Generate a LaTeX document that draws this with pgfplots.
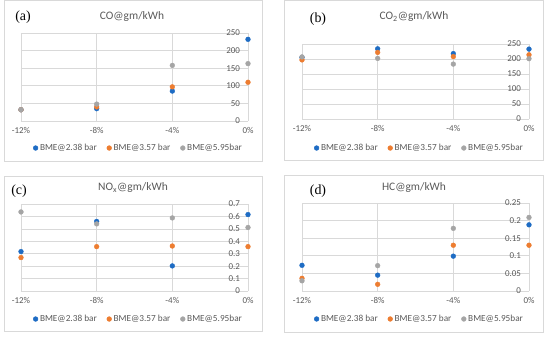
\documentclass[border=0pt]{standalone}
\usepackage{pgfplots}
\pgfplotsset{compat=1.18}
\usepackage{fontspec}
\setmainfont{Carlito}
\newfontfamily\serifpanel{Liberation Serif}
\definecolor{sblue}{RGB}{30,108,196}
\definecolor{sorange}{RGB}{237,125,49}
\definecolor{sgray}{RGB}{165,165,165}
\definecolor{gridc}{RGB}{217,217,217}
\definecolor{framec}{RGB}{217,217,217}
\definecolor{txt}{RGB}{89,89,89}
\pgfplotsset{
 panel/.style={
  scale only axis, width=227bp, xmin=-12, xmax=0, ymin=0, clip=false,
  axis x line=bottom, axis y line=right,
  axis line style={draw=gridc, line width=0.6bp, -},
  xtick={-12,-8,-4,0}, xticklabels={-12\%,-8\%,-4\%,0\%},
  grid=major, major grid style={draw=gridc, line width=0.6bp},
  major tick length=0pt,
  tick label style={font=\fontsize{9}{10}\selectfont, text=txt},
  xticklabel style={yshift=-2.5bp},
  yticklabel style={anchor=east, xshift=-4.5bp},
  legend columns=3,
  legend style={draw=none, fill=none, font=\fontsize{9.3}{11}\selectfont, text=txt, anchor=center,
    /tikz/every even column/.append style={column sep=8bp}},
  legend image code/.code={\draw[#1] plot coordinates {(0bp,0bp)};},
  legend cell align=left,
 },
 sb/.style={only marks, mark=*, mark size=2.4bp, color=sblue},
 so/.style={only marks, mark=*, mark size=2.4bp, color=sorange},
 sg/.style={only marks, mark=*, mark size=2.4bp, color=sgray},
}
\begin{document}
\begin{tikzpicture}
\path (0bp,0bp) rectangle (550bp,338bp);
% frames
\draw[framec, line width=0.6bp] (4bp,177bp) rectangle (262bp,337.7bp);
\draw[framec, line width=0.6bp] (284bp,178bp) rectangle (543bp,337.7bp);
\draw[framec, line width=0.6bp] (4bp,7bp) rectangle (262bp,162bp);
\draw[framec, line width=0.6bp] (284bp,6bp) rectangle (543bp,163bp);

% (a) CO
\begin{axis}[panel, at={(21bp,217bp)}, anchor=south west, height=88bp, ymax=250,
  ytick={0,50,100,150,200,250}, yticklabels={0,50,100,150,200,250},
  legend style={at={(0.518,-0.307)}}]
\addplot[sb] coordinates {(-12,32) (-8,35) (-4,85) (0,232)};
\addplot[so] coordinates {(-12,32) (-8,40) (-4,97) (0,110)};
\addplot[sg] coordinates {(-12,32) (-8,48) (-4,158) (0,163)};
\legend{BME@2.38 bar, BME@3.57 bar, BME@5.95bar}
\end{axis}

% (b) CO2
\begin{axis}[panel, at={(302bp,219bp)}, anchor=south west, height=75bp, ymax=250,
  ytick={0,50,100,150,200,250}, yticklabels={0,50,100,150,200,250},
  legend style={at={(0.518,-0.387)}}]
\addplot[sb] coordinates {(-12,205) (-8,234) (-4,218) (0,233)};
\addplot[so] coordinates {(-12,197) (-8,222) (-4,208) (0,214)};
\addplot[sg] coordinates {(-12,207) (-8,202) (-4,183) (0,201)};
\legend{BME@2.38 bar, BME@3.57 bar, BME@5.95bar}
\end{axis}

% (c) NOx
\begin{axis}[panel, at={(21bp,47bp)}, anchor=south west, height=87bp, ymax=0.7,
  ytick={0,0.1,0.2,0.3,0.4,0.5,0.6,0.7}, yticklabels={0,0.1,0.2,0.3,0.4,0.5,0.6,0.7},
  legend style={at={(0.518,-0.322)}}]
\addplot[sb] coordinates {(-12,0.317) (-8,0.56) (-4,0.202) (0,0.615)};
\addplot[so] coordinates {(-12,0.269) (-8,0.357) (-4,0.362) (0,0.357)};
\addplot[sg] coordinates {(-12,0.636) (-8,0.54) (-4,0.588) (0,0.511)};
\legend{BME@2.38 bar, BME@3.57 bar, BME@5.95bar}
\end{axis}

% (d) HC
\begin{axis}[panel, at={(302bp,47bp)}, anchor=south west, height=88bp, ymax=0.25,
  ytick={0,0.05,0.1,0.15,0.2,0.25}, yticklabels={0,0.05,0.1,0.15,0.2,0.25},
  legend style={at={(0.518,-0.318)}}]
\addplot[sb] coordinates {(-12,0.073) (-8,0.045) (-4,0.099) (0,0.188)};
\addplot[so] coordinates {(-12,0.036) (-8,0.019) (-4,0.130) (0,0.130)};
\addplot[sg] coordinates {(-12,0.029) (-8,0.072) (-4,0.178) (0,0.209)};
\legend{BME@2.38 bar, BME@3.57 bar, BME@5.95bar}
\end{axis}

% titles
\node[font=\fontsize{11.5}{13}\selectfont, text=txt] at (132bp,321bp) {CO@gm/kWh};
\node[font=\fontsize{11.5}{13}\selectfont, text=txt] at (414bp,321bp) {CO\textsubscript{2}@gm/kWh};
\node[font=\fontsize{11.5}{13}\selectfont, text=txt] at (133bp,150bp) {NO\textsubscript{x}@gm/kWh};
\node[font=\fontsize{11.5}{13}\selectfont, text=txt] at (414bp,150bp) {HC@gm/kWh};
% panel labels
\node[font=\serifpanel\fontsize{14}{16}\selectfont] at (23bp,321bp) {(a)};
\node[font=\serifpanel\fontsize{14}{16}\selectfont] at (318bp,319bp) {(b)};
\node[font=\serifpanel\fontsize{14}{16}\selectfont] at (19bp,147bp) {(c)};
\node[font=\serifpanel\fontsize{14}{16}\selectfont] at (318bp,147bp) {(d)};
\end{tikzpicture}
\end{document}
